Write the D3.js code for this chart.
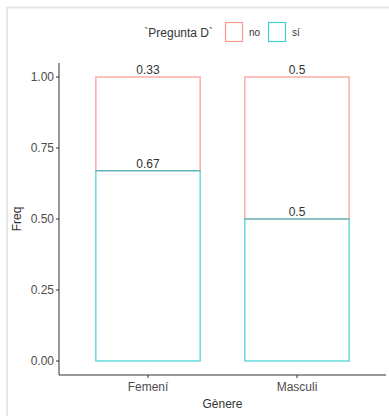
<!DOCTYPE html>
<html>
<head>
<meta charset="utf-8">
<script src="https://cdn.jsdelivr.net/npm/d3@7"></script>
<style>
  body { margin: 0; background: #fff; }
  text { font-family: "Liberation Sans", Arial, sans-serif; }
</style>
</head>
<body>
<div id="vis"></div>
<script>
const width = 389;
const height = 416;

const categories = ["Femení", "Masculi"];
const groups = ["sí", "no"];
const legendOrder = ["no", "sí"];
const siValues = [0.67, 0.5];
const noValues = [0.33, 0.5];
const siLabels = ["0.67", "0.5"];
const noLabels = ["0.33", "0.5"];
const yTicks = [0, 0.25, 0.5, 0.75, 1];

const colors = { "no": "#f8766d", "sí": "#00bfc4" };

const svg = d3.select("#vis")
  .append("svg")
  .attr("width", width)
  .attr("height", height);

// light frame around the picture
svg.append("line").attr("x1", 7).attr("x2", width).attr("y1", 7.5).attr("y2", 7.5)
  .attr("stroke", "#e6e6e6").attr("stroke-width", 2);
svg.append("line").attr("x1", 7).attr("x2", 7).attr("y1", 7).attr("y2", height)
  .attr("stroke", "#e6e6e6").attr("stroke-width", 2);

const x = d3.scalePoint()
  .domain(categories)
  .range([148, 297]);
const unit = x.step();
const barW = unit * 0.7;

const y = d3.scaleLinear()
  .domain([0, 1])
  .range([361, 77]);

const axisLeft = 59;
const axisBottom = 375;
const axisTop = 63;
const axisRight = 386;

// bars: stacked, sí on bottom, no on top
categories.forEach((c, i) => {
  const si = siValues[i];
  const no = noValues[i];
  svg.append("rect")
    .attr("x", x(c) - barW / 2)
    .attr("y", y(si + no))
    .attr("width", barW)
    .attr("height", y(si) - y(si + no))
    .attr("fill", "none")
    .attr("stroke", colors["no"])
    .attr("stroke-opacity", 0.75)
    .attr("stroke-width", 1.2);
  svg.append("rect")
    .attr("x", x(c) - barW / 2)
    .attr("y", y(si))
    .attr("width", barW)
    .attr("height", y(0) - y(si))
    .attr("fill", "none")
    .attr("stroke", colors["sí"])
    .attr("stroke-opacity", 0.75)
    .attr("stroke-width", 1.2);

  svg.append("text")
    .attr("x", x(c))
    .attr("y", y(si + no) - 3)
    .attr("text-anchor", "middle")
    .attr("font-size", "12px")
    .attr("fill", "#333")
    .text(noLabels[i]);
  svg.append("text")
    .attr("x", x(c))
    .attr("y", y(si) - 3)
    .attr("text-anchor", "middle")
    .attr("font-size", "12px")
    .attr("fill", "#333")
    .text(siLabels[i]);
});

// axes lines
svg.append("line")
  .attr("x1", axisLeft).attr("x2", axisLeft)
  .attr("y1", axisTop).attr("y2", axisBottom)
  .attr("stroke", "#333").attr("stroke-width", 1);
svg.append("line")
  .attr("x1", axisLeft).attr("x2", axisRight)
  .attr("y1", axisBottom).attr("y2", axisBottom)
  .attr("stroke", "#333").attr("stroke-width", 1);

// y ticks
yTicks.forEach(t => {
  svg.append("line")
    .attr("x1", axisLeft - 3).attr("x2", axisLeft)
    .attr("y1", y(t)).attr("y2", y(t))
    .attr("stroke", "#333");
  svg.append("text")
    .attr("x", axisLeft - 5)
    .attr("y", y(t) + 4)
    .attr("text-anchor", "end")
    .attr("font-size", "12px")
    .attr("fill", "#4d4d4d")
    .text(t.toFixed(2));
});

// x ticks
categories.forEach(c => {
  svg.append("line")
    .attr("x1", x(c)).attr("x2", x(c))
    .attr("y1", axisBottom).attr("y2", axisBottom + 3)
    .attr("stroke", "#333");
  svg.append("text")
    .attr("x", x(c))
    .attr("y", axisBottom + 16)
    .attr("text-anchor", "middle")
    .attr("font-size", "12px")
    .attr("fill", "#4d4d4d")
    .text(c);
});

// axis titles
svg.append("text")
  .attr("x", (axisLeft + axisRight) / 2)
  .attr("y", 408)
  .attr("text-anchor", "middle")
  .attr("font-size", "12px")
  .attr("fill", "#333")
  .text("Gènere");

svg.append("text")
  .attr("transform", `translate(21,${(axisTop + axisBottom) / 2}) rotate(-90)`)
  .attr("text-anchor", "middle")
  .attr("font-size", "12px")
  .attr("fill", "#333")
  .text("Freq");

// legend
const legend = svg.append("g");
legend.append("text")
  .attr("x", 213)
  .attr("y", 37)
  .attr("text-anchor", "end")
  .attr("font-size", "12px")
  .attr("fill", "#333")
  .text("`Pregunta D`");

const keyX = [225, 268];
legendOrder.forEach((g, i) => {
  legend.append("rect")
    .attr("x", keyX[i] + 0.5)
    .attr("y", 22.5)
    .attr("width", 17)
    .attr("height", 19)
    .attr("fill", "none")
    .attr("stroke", colors[g])
    .attr("stroke-opacity", 0.75)
    .attr("stroke-width", 1.2);
  legend.append("text")
    .attr("x", keyX[i] + 24)
    .attr("y", 36)
    .attr("font-size", "10px")
    .attr("fill", "#333")
    .text(g);
});
</script>
</body>
</html>
